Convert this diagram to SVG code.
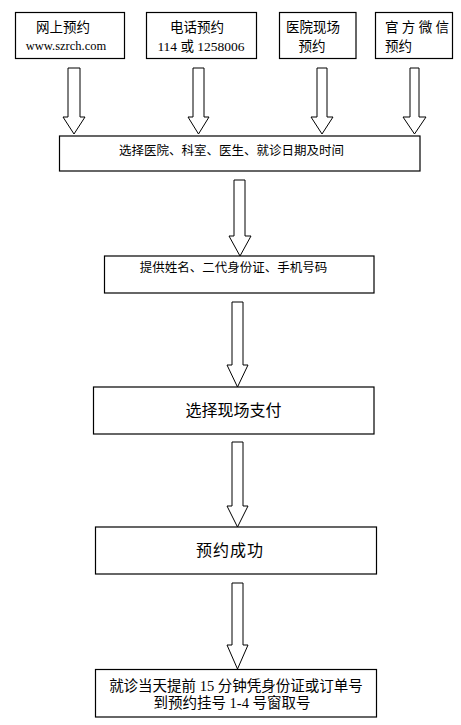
<svg xmlns="http://www.w3.org/2000/svg" width="461" height="725" viewBox="0 0 461 725">
<style>
.box{fill:#fff;stroke:#000;stroke-width:1.2}
.arr{fill:#fff;stroke:#000;stroke-width:1}
text{font-family:"Liberation Serif","Noto Sans CJK SC",serif;fill:#000}
.t14{font-size:13.5px}
.t13{font-size:12.5px}
.t16{font-size:16px}
.t15{font-size:14.5px}
</style>
<rect width="461" height="725" fill="#fff"/>
<g id="connectors">
<polygon class="arr" points="68,68 80,68 80,117 85,117 74,134 63,117 68,117"/>
<polygon class="arr" points="193,68 204,68 204,117 209,117 198.5,134 188,117 193,117"/>
<polygon class="arr" points="317,68 327,68 327,117 333,117 322,134 311,117 317,117"/>
<polygon class="arr" points="410,68 419,68 419,117 426,117 414.5,134 403,117 410,117"/>
<polygon class="arr" points="234,180 245,180 245,236 251,236 240,256 229,236 234,236"/>
<polygon class="arr" points="232,302 243,302 243,365 248,365 237.5,387 227,365 232,365"/>
<polygon class="arr" points="232,442 243,442 243,506 248,506 237.5,527 227,506 232,506"/>
<polygon class="arr" points="232,583 243,583 243,645 248,645 237.5,669 227,645 232,645"/>
</g>
<g id="node-online">
<rect class="box" x="15.5" y="12.5" width="109" height="46"/>
<text class="t14" x="63" y="32" text-anchor="middle">网上预约</text>
<text class="t13" x="66" y="50" text-anchor="middle">www.szrch.com</text>
</g>
<g id="node-phone">
<rect class="box" x="146.5" y="12.5" width="110" height="46"/>
<text class="t14" x="197" y="32" text-anchor="middle">电话预约</text>
<text class="t14" x="201" y="51" text-anchor="middle">114 或 1258006</text>
</g>
<g id="node-hospital">
<rect class="box" x="279.5" y="12.5" width="76.5" height="46"/>
<text class="t14" x="313" y="32" text-anchor="middle">医院现场</text>
<text class="t14" x="312" y="51" text-anchor="middle">预约</text>
</g>
<g id="node-wechat">
<rect class="box" x="375.5" y="12.5" width="77" height="46"/>
<text class="t14" x="385" y="32">官 方 微 信</text>
<text class="t14" x="385" y="51">预约</text>
</g>
<g id="node-select">
<rect class="box" x="59.5" y="136" width="360.5" height="35"/>
<text class="t13" x="231.5" y="155" text-anchor="middle">选择医院、科室、医生、就诊日期及时间</text>
</g>
<g id="node-provide">
<rect class="box" x="104.5" y="256" width="269.5" height="37"/>
<text class="t13" x="233.5" y="272" text-anchor="middle">提供姓名、二代身份证、手机号码</text>
</g>
<g id="node-pay">
<rect class="box" x="93.5" y="387" width="280.5" height="47"/>
<text class="t16" x="233.5" y="416" text-anchor="middle">选择现场支付</text>
</g>
<g id="node-success">
<rect class="box" x="95.5" y="527" width="281" height="47"/>
<text class="t16" x="230" y="556" text-anchor="middle" letter-spacing="1">预约成功</text>
</g>
<g id="node-final">
<rect class="box" x="95.5" y="669.5" width="281" height="47.5"/>
<text class="t15" x="236" y="691" text-anchor="middle">就诊当天提前 15 分钟凭身份证或订单号</text>
<text class="t15" x="232" y="708" text-anchor="middle">到预约挂号 1-4 号窗取号</text>
</g>
</svg>
